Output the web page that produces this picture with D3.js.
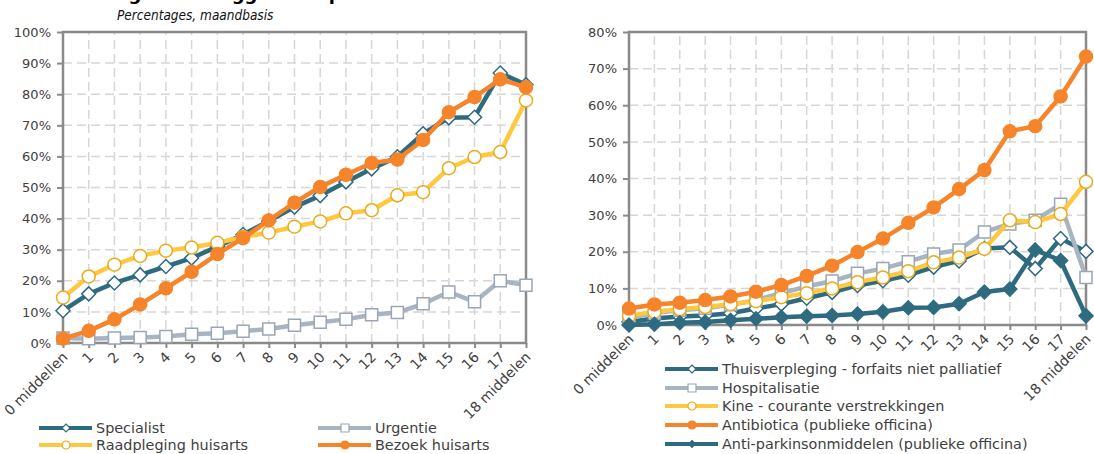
<!DOCTYPE html>
<html>
<head>
<meta charset="utf-8">
<script src="https://cdn.jsdelivr.net/npm/d3@7/dist/d3.min.js"></script>
<style>
  html, body { margin: 0; padding: 0; background: #fff; }
  svg { display: block; }
  text { font-family: "DejaVu Sans", sans-serif; fill: #404040; }
</style>
</head>
<body>
<svg id="chart" width="1094" height="454"></svg>
<script>
// ---------- DATA ----------
const categoriesLeft = ["0 middellen","1","2","3","4","5","6","7","8","9","10","11","12","13","14","15","16","17","18 middelen"];
const categoriesRight = ["0 middelen","1","2","3","4","5","6","7","8","9","10","11","12","13","14","15","16","17","18 middelen"];

const specialist = [10.4,15.8,19.3,21.9,24.6,27.3,31.0,34.9,39.2,43.7,47.4,51.8,56.0,59.9,67.3,72.4,72.6,86.8,83.0];
const urgentie   = [1.6,1.4,1.6,1.8,2.1,2.8,3.1,3.8,4.5,5.7,6.7,7.6,9.1,9.8,12.6,16.4,13.3,20.0,18.6];
const raadpleging= [14.6,21.4,25.2,28.0,29.7,30.7,32.2,34.1,35.5,37.4,39.1,41.7,42.7,47.5,48.5,56.2,59.8,61.4,78.0];
const bezoek     = [1.4,3.9,7.6,12.4,17.6,22.9,28.6,33.7,39.4,45.1,50.2,54.1,57.9,59.0,65.3,74.2,79.1,84.8,82.2];

const thuisverpleging = [0.8,1.8,2.3,2.6,3.2,4.5,5.7,7.3,8.9,10.8,12.1,13.6,15.8,17.5,20.9,21.2,15.4,23.6,20.1];
const hospitalisatie  = [2.0,3.3,4.0,4.6,5.5,6.8,8.7,10.5,12.0,14.1,15.4,17.3,19.4,20.5,25.4,27.6,28.6,33.0,13.0];
const kine            = [2.5,3.6,4.3,4.9,5.7,6.5,7.6,8.7,10.0,11.7,13.0,14.7,17.1,18.4,20.8,28.6,28.1,30.3,39.1];
const antibiotica     = [4.5,5.6,6.1,6.8,7.8,9.1,10.9,13.4,16.2,19.9,23.6,27.9,32.1,37.1,42.3,52.9,54.3,62.4,73.3];
const antiparkinson   = [0.0,0.2,0.6,0.8,1.3,1.7,2.1,2.4,2.6,3.0,3.6,4.7,4.8,5.8,9.0,9.8,20.5,17.6,2.5];

const ticksLeft  = [0,10,20,30,40,50,60,70,80,90,100];
const ticksRight = [0,10,20,30,40,50,60,70,80];

const seriesLeft = [
  {name:"Specialist", values:specialist, color:"#2f6b80", marker:"diamond", open:true},
  {name:"Urgentie", values:urgentie, color:"#a8b4c1", marker:"square", open:true},
  {name:"Raadpleging huisarts", values:raadpleging, color:"#fec840", marker:"circle", open:true},
  {name:"Bezoek huisarts", values:bezoek, color:"#f5842a", marker:"circle", open:false}
];
const seriesRight = [
  {name:"Thuisverpleging - forfaits niet palliatief", values:thuisverpleging, color:"#2f6b80", marker:"diamond", open:true},
  {name:"Hospitalisatie", values:hospitalisatie, color:"#a8b4c1", marker:"square", open:true},
  {name:"Kine - courante verstrekkingen", values:kine, color:"#fec840", marker:"circle", open:true},
  {name:"Antibiotica (publieke officina)", values:antibiotica, color:"#f5842a", marker:"circle", open:false},
  {name:"Anti-parkinsonmiddelen (publieke officina)", values:antiparkinson, color:"#2f6b80", marker:"diamond", open:false}
];

// ---------- DRAW ----------
const svg = d3.select("#chart");

svg.append("text").attr("x", 110).attr("y", 0)
  .style("font-weight", "bold").style("font-size", "18px").style("fill", "#000")
  .text("Figuur – Zorggebruik per maand");
svg.append("text").attr("x", 117).attr("y", 20)
  .style("font-style", "italic").style("font-size", "13.5px").style("fill", "#111")
  .style("font-family", "DejaVu Sans Condensed, DejaVu Sans, sans-serif")
  .text("Percentages, maandbasis");

function markerPath(type, size) {
  if (type === "circle") return d3.symbol(d3.symbolCircle, size * size * Math.PI / 4)();
  if (type === "square") return d3.symbol(d3.symbolSquare, size * size)();
  const h = size / 2;
  return `M0,${-h}L${h},0L0,${h}L${-h},0Z`;
}
function strokeFor(s) {
  if (s.marker === "circle" && s.open) return "#e9ab1c";
  if (s.marker === "square") return "#98a6b5";
  return s.color;
}

function drawChart(cfg) {
  const g = svg.append("g");
  const x = d3.scalePoint().domain(cfg.categories).range([cfg.x0, cfg.x1]).padding(0);
  const y = d3.scaleLinear().domain([0, cfg.ymax]).range([cfg.y0, cfg.y1]);

  // gridlines
  g.append("g").selectAll("line").data(cfg.ticks.slice(1, -1)).join("line")
    .attr("x1", cfg.x0).attr("x2", cfg.x1).attr("y1", d => y(d)).attr("y2", d => y(d))
    .attr("stroke", "#d6d6d6").attr("stroke-width", 1.5).attr("stroke-dasharray", "9,5");
  g.append("g").selectAll("line").data(cfg.categories.slice(1, -1)).join("line")
    .attr("x1", d => x(d)).attr("x2", d => x(d)).attr("y1", cfg.y0).attr("y2", cfg.y1)
    .attr("stroke", "#d6d6d6").attr("stroke-width", 1.5).attr("stroke-dasharray", "9,5");

  // box
  g.append("rect").attr("x", cfg.x0).attr("y", cfg.y1)
    .attr("width", cfg.x1 - cfg.x0).attr("height", cfg.y0 - cfg.y1)
    .attr("fill", "none").attr("stroke", "#8a8a8a").attr("stroke-width", 2.5);

  // y axis
  const ya = d3.axisLeft(y).tickValues(cfg.ticks).tickFormat(d => d + "%").tickSize(6).tickPadding(6);
  const yg = g.append("g").attr("transform", `translate(${cfg.x0},0)`).call(ya);
  yg.select(".domain").remove();
  yg.selectAll("line").attr("stroke", "#8a8a8a").attr("stroke-width", 2);
  yg.selectAll("text").style("font-size", "13px").style("fill", "#404040")
    .style("font-family", "DejaVu Sans, sans-serif");

  // x axis
  const xa = d3.axisBottom(x).tickSize(5).tickPadding(4);
  const xg = g.append("g").attr("transform", `translate(0,${cfg.y0})`).call(xa);
  xg.select(".domain").remove();
  xg.selectAll("line").attr("stroke", "#8a8a8a").attr("stroke-width", 2);
  xg.selectAll("text")
    .style("font-size", "14px").style("fill", "#404040").style("font-family", "DejaVu Sans, sans-serif")
    .attr("text-anchor", "end").attr("dy", null).attr("y", 0)
    .attr("transform", "translate(5,15) rotate(-45)");

  // series
  const line = d3.line().x((d, i) => x(cfg.categories[i])).y(d => y(d));
  cfg.series.forEach(s => {
    const sg = g.append("g");
    sg.append("path").datum(s.values).attr("d", line)
      .attr("fill", "none").attr("stroke", s.color).attr("stroke-width", 4.5)
      .attr("stroke-linejoin", "round");
    const size = s.marker === "circle" ? 13 : (s.marker === "square" ? 12 : 14);
    sg.selectAll("path.m").data(s.values).join("path").attr("class", "m")
      .attr("d", markerPath(s.marker, size))
      .attr("transform", (d, i) => `translate(${x(cfg.categories[i])},${y(d)})`)
      .attr("fill", s.open ? "#fff" : s.color)
      .attr("stroke", s.open ? strokeFor(s) : s.color).attr("stroke-width", 1.5);
  });

  // legend
  cfg.series.forEach((s, i) => {
    const p = cfg.legend[i];
    const lg = g.append("g").attr("transform", `translate(${p[0]},${p[1]})`);
    lg.append("line").attr("x1", 0).attr("x2", 53).attr("y1", 0).attr("y2", 0)
      .attr("stroke", s.color).attr("stroke-width", 4);
    const size = s.marker === "circle" ? 8 : (s.marker === "square" ? 8 : (s.open ? 8 : 7));
    lg.append("path").attr("d", markerPath(s.marker, size)).attr("transform", "translate(27,0)")
      .attr("fill", s.open ? "#fff" : s.color)
      .attr("stroke", s.open ? strokeFor(s) : s.color).attr("stroke-width", 1.2);
    lg.append("text").attr("x", 57).attr("y", 5).style("font-size", "14.4px").style("fill", "#404040")
      .text(s.name);
  });
}

drawChart({
  categories: categoriesLeft, series: seriesLeft, ticks: ticksLeft, ymax: 100,
  x0: 63, x1: 526, y0: 343, y1: 32,
  legend: [[39, 428], [318, 428], [39, 445], [318, 445]]
});
drawChart({
  categories: categoriesRight, series: seriesRight, ticks: ticksRight, ymax: 80,
  x0: 629, x1: 1086, y0: 325, y1: 32,
  legend: [[665, 369], [665, 388], [665, 406], [665, 425], [665, 444]]
});
</script>
</body>
</html>
